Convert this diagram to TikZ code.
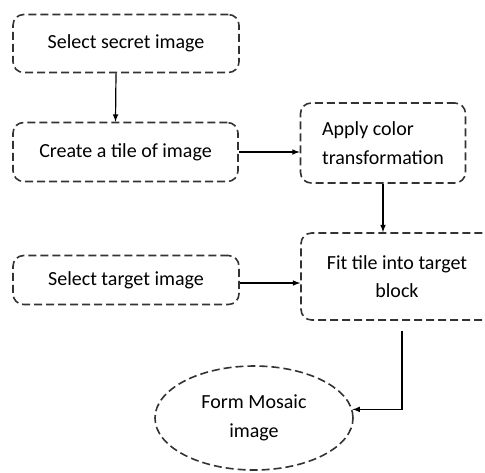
\documentclass[tikz,border=0pt]{standalone}
\usepackage{fontspec}
\setmainfont{Carlito}
\usetikzlibrary{arrows}
\usetikzlibrary{shapes.geometric}

\tikzset{
  stepbox/.style={draw=black!80, dash pattern=on 6pt off 3pt, line width=1.2pt,
    rounded corners=8pt, inner sep=0pt, font=\fontsize{15}{21.5}\selectfont},
  endblob/.style={stepbox, ellipse, rounded corners=0pt},
  flow/.style={->, >=latex, line width=0.9pt}
}

\begin{document}
\begin{tikzpicture}[x=0.75pt, y=-0.75pt]
    \clip (0,0) rectangle (485,472);
    %% left column
    \node [stepbox, minimum width=169.5pt, minimum height=43.5pt] (sec) at (126,43.5) {Select secret image};
    \node [stepbox, minimum width=168.75pt, minimum height=44.25pt] (tile) at (125.5,152) {Create a tile of image};
    \node [stepbox, minimum width=169.5pt, minimum height=36.75pt] (target) at (126,280) {Select target image};
    %% right column
    \node [stepbox, minimum width=123.75pt, minimum height=60pt, align=left] (color) at (383,143) {Apply color\\transformation};
    \node [stepbox, minimum width=144pt, minimum height=65.25pt, align=center] (fit) at (397,276.5) {Fit tile into target\\block};
    %% end
    \node [endblob, minimum width=148.5pt, minimum height=78pt, align=center] (mosaic) at (254,418) {Form Mosaic\\image};
    %% arrows
    \draw [flow] ([xshift=-7.5pt]sec.south) -- ([xshift=-7.5pt]tile.north);
    \draw [flow] (tile.east) -- (tile.east -| color.west);
    \draw [flow] (color.south) -- (color.south |- fit.north);
    \draw [flow] ([yshift=-2.25pt]target.east) -- ([yshift=-2.25pt]target.east -| fit.west);
    \draw [flow] ([shift={(3.75pt,-7.5pt)}]fit.south) |- (mosaic.5);
\end{tikzpicture}
\end{document}
